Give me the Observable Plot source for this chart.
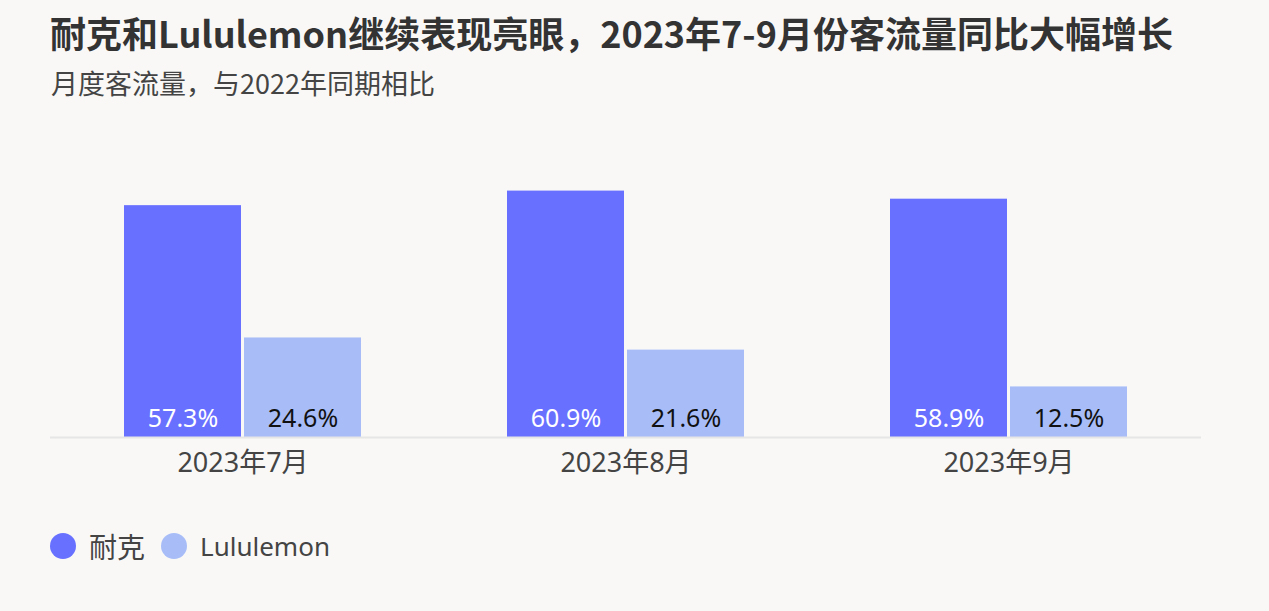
<!DOCTYPE html>
<html>
<head>
<meta charset="utf-8">
<script src="https://cdn.jsdelivr.net/npm/d3@7"></script>
<script src="https://cdn.jsdelivr.net/npm/@observablehq/plot@0.6"></script>
<style>
  html, body { margin: 0; padding: 0; background: #f9f8f7; }
  body { width: 1269px; height: 611px; overflow: hidden; font-family: "Noto Sans CJK SC", "Noto Sans", sans-serif; }
  #title { position: absolute; left: 50px; top: 11px; font-size: 36px; font-weight: 700; color: #333; line-height: 1.2; white-space: nowrap; }
  #subtitle { position: absolute; left: 51px; top: 67px; font-size: 27px; color: #444; line-height: 1.2; white-space: nowrap; }
  #chart { position: absolute; left: 0; top: 110px; }
  #legend { position: absolute; left: 50px; top: 526px; display: flex; align-items: center; font-size: 26px; color: #444; font-family: "Noto Sans", "Noto Sans CJK SC", sans-serif; }
  .sw { width: 26px; height: 26px; border-radius: 50%; display: inline-block; margin-right: 13px; }
  .item { display: flex; align-items: center; margin-right: 16px; }
  .item:first-child span:last-child { font-size: 28px; }
</style>
</head>
<body>
<div id="title">耐克和Lululemon继续表现亮眼，2023年7-9月份客流量同比大幅增长</div>
<div id="subtitle">月度客流量，与2022年同期相比</div>
<div id="chart"></div>
<div id="legend"></div>
<script>
const months = ["2023年7月", "2023年8月", "2023年9月"];
const brands = ["耐克", "Lululemon"];
const nike = [57.3, 60.9, 58.9];
const lululemon = [24.6, 21.6, 12.5];
const colors = ["#6870ff", "#a8bdf8"];
const labelColors = ["#ffffff", "#111111"];

const nikeData = months.map((m, i) => ({month: m, brand: brands[0], value: nike[i]}));
const luluData = months.map((m, i) => ({month: m, brand: brands[1], value: lululemon[i]}));

const plot = Plot.plot({
  width: 1269,
  height: 380,
  marginLeft: 50,
  marginRight: 68,
  marginTop: 64,
  marginBottom: 53,
  style: {background: "transparent", fontFamily: "'Noto Sans', 'Noto Sans CJK SC', sans-serif", fontSize: "25px", color: "#444"},
  x: {domain: months, paddingInner: 0.382, paddingOuter: 0.19, label: null},
  y: {domain: [0, 65], axis: null},
  color: {domain: brands, range: colors},
  marks: [
    Plot.barY(nikeData, {x: "month", y: "value", fill: "brand", insetRight: 120}),
    Plot.barY(luluData, {x: "month", y: "value", fill: "brand", insetLeft: 120}),
    Plot.ruleY([0], {stroke: "#e6e6e6", strokeWidth: 2}),
    Plot.text(nikeData, {x: "month", y: 0, dx: -60, dy: -19, text: d => d.value.toFixed(1) + "%", fill: labelColors[0], fontSize: 25}),
    Plot.text(luluData, {x: "month", y: 0, dx: 60, dy: -19, text: d => d.value.toFixed(1) + "%", fill: labelColors[1], fontSize: 25}),
    Plot.axisX({anchor: "bottom", tickSize: 0, tickPadding: 15, fontSize: 27, label: null, color: "#444"})
  ]
});
document.getElementById("chart").appendChild(plot);

const legend = document.getElementById("legend");
brands.forEach((b, i) => {
  const item = document.createElement("div");
  item.className = "item";
  const sw = document.createElement("span");
  sw.className = "sw";
  sw.style.background = colors[i];
  const t = document.createElement("span");
  t.textContent = b;
  item.appendChild(sw);
  item.appendChild(t);
  legend.appendChild(item);
});
</script>
</body>
</html>
